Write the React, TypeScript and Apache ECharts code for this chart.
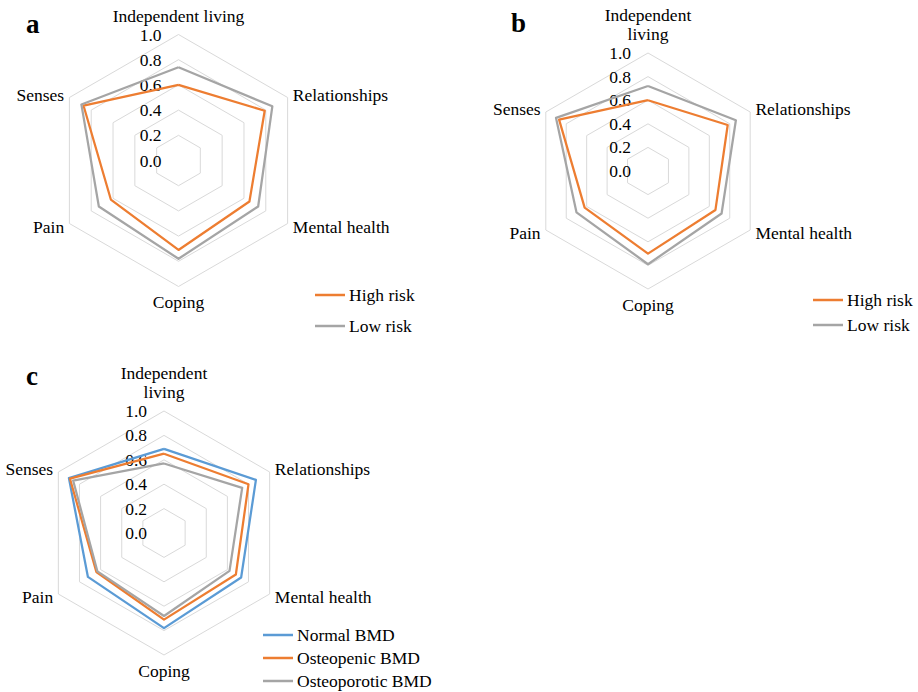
import React, { useEffect, useRef } from "react";
import * as echarts from "echarts";

// Indicators in counter-clockwise drawing order starting at the top
const axesA = ["Independent living", "Senses", "Pain", "Coping", "Mental health", "Relationships"];
const axesBC = ["Independent\nliving", "Senses", "Pain", "Coping", "Mental health", "Relationships"];

const tickValues = [0, 0.2, 0.4, 0.6, 0.8, 1.0];

// Panel a
const aHighRisk = [0.60, 0.87, 0.62, 0.71, 0.65, 0.79];
const aLowRisk = [0.74, 0.89, 0.73, 0.78, 0.73, 0.86];
// Panel b
const bHighRisk = [0.60, 0.87, 0.62, 0.70, 0.66, 0.78];
const bLowRisk = [0.72, 0.90, 0.70, 0.79, 0.72, 0.86];
// Panel c
const cNormal = [0.69, 0.90, 0.72, 0.78, 0.73, 0.87];
const cOsteopenic = [0.65, 0.89, 0.64, 0.71, 0.68, 0.80];
const cOsteoporotic = [0.57, 0.86, 0.63, 0.68, 0.62, 0.74];

const seriesNamesAB = ["High risk", "Low risk"];
const seriesNamesC = ["Normal BMD", "Osteopenic BMD", "Osteoporotic BMD"];

const ORANGE = "#ED7D31";
const GRAY = "#A5A5A5";
const BLUE = "#5B9BD5";
const FONT = "Liberation Serif, Times New Roman, serif";
const FS = 17.5;

function makeIndicators(names: string[]) {
  return names.map((n, i) => {
    const ind: any = { name: n, min: tickValues[0], max: tickValues[tickValues.length - 1] };
    if (i === 0) {
      ind.axisLabel = {
        show: true,
        color: "#000",
        fontSize: FS,
        fontFamily: FONT,
        margin: 17,
        formatter: (v: number) => Number(v).toFixed(1),
      };
    }
    return ind;
  });
}

function makeRadar(names: string[], center: number[], radius: number) {
  return {
    indicator: makeIndicators(names),
    center,
    radius,
    shape: "polygon",
    splitNumber: tickValues.length - 1,
    startAngle: 90,
    nameGap: 6,
    axisName: { color: "#000", fontSize: FS, fontFamily: FONT, lineHeight: 19.5 },
    axisLine: { show: false },
    axisTick: { show: false },
    axisLabel: { show: false },
    splitArea: { show: false },
    splitLine: { lineStyle: { color: "#D9D9D9", width: 1 } },
  };
}

function item(name: string, value: number[], color: string) {
  return {
    name,
    value,
    symbol: "none",
    itemStyle: { color },
    lineStyle: { color, width: 2.25 },
  };
}

function makeLegend(data: string[], left: number, top: number, gap: number) {
  return {
    data,
    left,
    top,
    height: 120,
    padding: 0,
    orient: "vertical",
    icon: "rect",
    itemWidth: 30,
    itemHeight: 2.5,
    itemGap: gap,
    selectedMode: false,
    textStyle: { color: "#000", fontSize: FS, fontFamily: FONT, lineHeight: 18, padding: [0, 0, 0, -1] },
  };
}

export default function App() {
  const ref = useRef<HTMLDivElement>(null);
  useEffect(() => {
    if (!ref.current) return;
    const chart = echarts.init(ref.current, undefined, { renderer: "svg" });
    chart.setOption({
      animation: false,
      backgroundColor: "#fff",
      textStyle: { fontFamily: FONT },
      radar: [
        makeRadar(axesA, [178.5, 160.5], 126),
        makeRadar(axesBC, [648, 171], 118),
        makeRadar(axesBC, [164, 533], 122),
      ],
      legend: [
        makeLegend(seriesNamesAB, 315, 286, 13),
        makeLegend(seriesNamesAB, 813, 291, 7),
        makeLegend(seriesNamesC, 263, 626, 5),
      ],
      series: [
        {
          type: "radar",
          radarIndex: 0,
          symbol: "none",
          data: [item(seriesNamesAB[0], aHighRisk, ORANGE), item(seriesNamesAB[1], aLowRisk, GRAY)],
        },
        {
          type: "radar",
          radarIndex: 1,
          symbol: "none",
          data: [item(seriesNamesAB[0], bHighRisk, ORANGE), item(seriesNamesAB[1], bLowRisk, GRAY)],
        },
        {
          type: "radar",
          radarIndex: 2,
          symbol: "none",
          data: [
            item(seriesNamesC[0], cNormal, BLUE),
            item(seriesNamesC[1], cOsteopenic, ORANGE),
            item(seriesNamesC[2], cOsteoporotic, GRAY),
          ],
        },
      ],
      graphic: [
        { type: "text", left: 26, top: 10, style: { text: "a", font: `bold 27px ${FONT}`, fill: "#000" } },
        { type: "text", left: 511, top: 9, style: { text: "b", font: `bold 27px ${FONT}`, fill: "#000" } },
        { type: "text", left: 26, top: 362, style: { text: "c", font: `bold 27px ${FONT}`, fill: "#000" } },
      ],
    });
    return () => chart.dispose();
  }, []);
  return (
    <div
      ref={ref}
      style={{ position: "fixed", left: 0, top: 0, width: 918, height: 692, background: "#fff" }}
    />
  );
}
